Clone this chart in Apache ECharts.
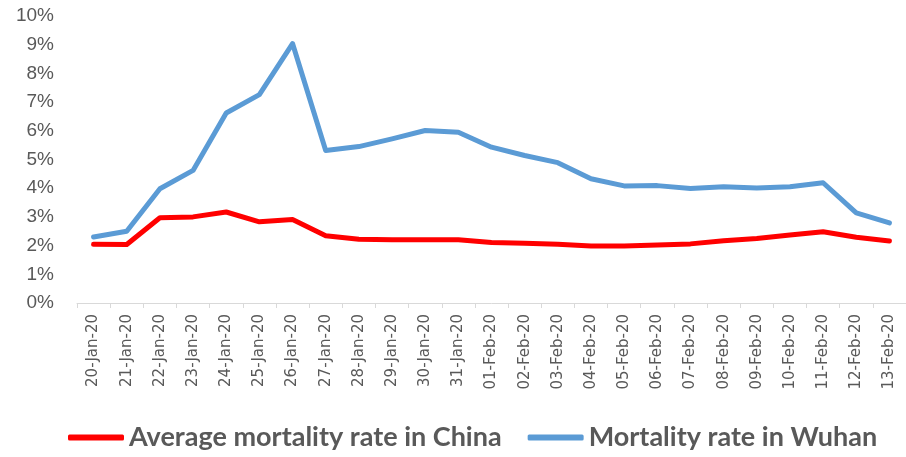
<!DOCTYPE html>
<html>
<head>
<meta charset="utf-8">
<script src="https://cdn.jsdelivr.net/npm/echarts@6/dist/echarts.min.js"></script>
<style>
  html, body { margin: 0; padding: 0; background: #fff; }
  #chart { width: 906px; height: 457px; }
</style>
</head>
<body>
<div id="chart"></div>
<script>
// dates on the x axis
const dates = [
  "20-Jan-20", "21-Jan-20", "22-Jan-20", "23-Jan-20", "24-Jan-20", "25-Jan-20",
  "26-Jan-20", "27-Jan-20", "28-Jan-20", "29-Jan-20", "30-Jan-20", "31-Jan-20",
  "01-Feb-20", "02-Feb-20", "03-Feb-20", "04-Feb-20", "05-Feb-20", "06-Feb-20",
  "07-Feb-20", "08-Feb-20", "09-Feb-20", "10-Feb-20", "11-Feb-20", "12-Feb-20",
  "13-Feb-20"
];

// mortality rates, in percent
const chinaRate = [
  2.05, 2.04, 2.97, 3.00, 3.17, 2.83, 2.91, 2.34, 2.22, 2.20, 2.20, 2.20,
  2.11, 2.08, 2.05, 1.99, 1.99, 2.02, 2.06, 2.17, 2.25, 2.37, 2.48, 2.29,
  2.16
];
const wuhanRate = [
  2.30, 2.50, 3.98, 4.62, 6.62, 7.26, 9.04, 5.31, 5.45, 5.72, 6.01, 5.95,
  5.43, 5.14, 4.89, 4.33, 4.08, 4.09, 3.99, 4.05, 4.01, 4.05, 4.19, 3.14,
  2.79
];

const seriesNames = ["Average mortality rate in China", "Mortality rate in Wuhan"];

const chart = echarts.init(document.getElementById("chart"));

const option = {
  animation: false,
  grid: {
    left: 77,
    width: 833,
    top: 16,
    bottom: 154
  },
  legend: {
    data: seriesNames,
    left: 63,
    top: 419,
    icon: "roundRect",
    itemWidth: 56,
    itemHeight: 6,
    itemGap: 26,
    textStyle: {
      fontFamily: "Lato",
      fontWeight: "bold",
      fontSize: 27,
      color: "#595959"
    }
  },
  xAxis: {
    type: "category",
    data: dates,
    boundaryGap: true,
    axisLine: { lineStyle: { color: "#d9d9d9", width: 1 } },
    axisTick: { show: true, length: 5, lineStyle: { color: "#d9d9d9" } },
    axisLabel: {
      interval: 0,
      rotate: 90,
      margin: 11,
      fontFamily: "DejaVu Sans",
      fontSize: 15,
      color: "#595959"
    }
  },
  yAxis: {
    type: "value",
    min: 0,
    max: 10,
    interval: 1,
    axisLine: { show: false },
    axisTick: { show: false },
    splitLine: { show: false },
    axisLabel: {
      formatter: "{value}%",
      margin: 23,
      fontFamily: "Liberation Sans",
      fontSize: 19,
      color: "#595959"
    }
  },
  series: [
    {
      name: seriesNames[0],
      type: "line",
      data: chinaRate,
      symbol: "none",
      color: "#ff0000",
      lineStyle: { width: 5, color: "#ff0000", cap: "round", join: "round" }
    },
    {
      name: seriesNames[1],
      type: "line",
      data: wuhanRate,
      symbol: "none",
      color: "#5b9bd5",
      lineStyle: { width: 5, color: "#5b9bd5", cap: "round", join: "round" }
    }
  ]
};

chart.setOption(option);
</script>
</body>
</html>
